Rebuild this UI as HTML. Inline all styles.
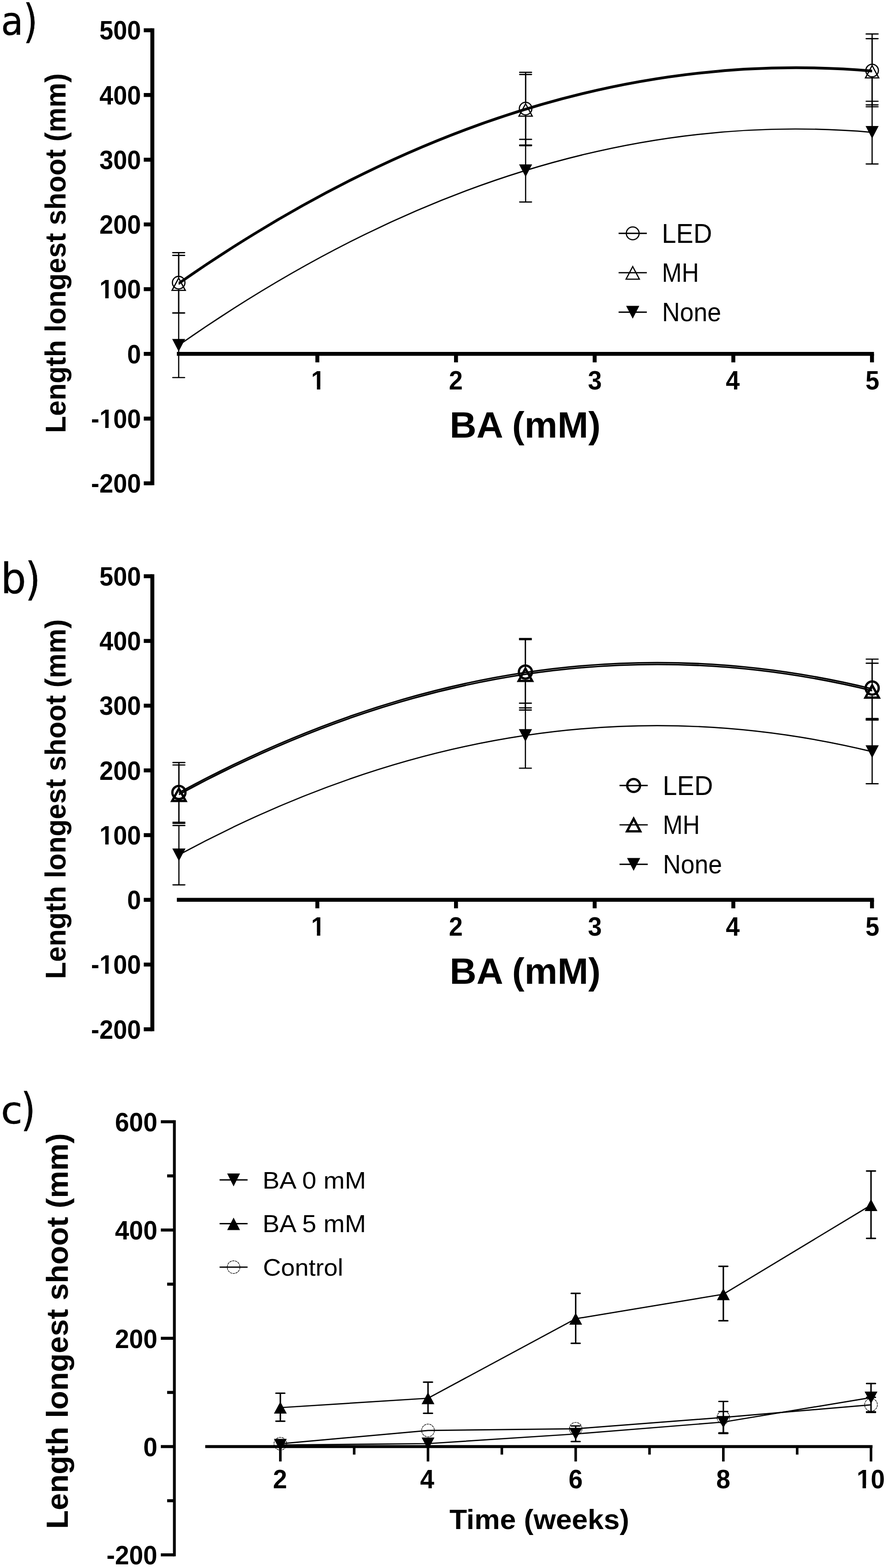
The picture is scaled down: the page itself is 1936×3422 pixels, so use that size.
<!DOCTYPE html>
<html><head><meta charset="utf-8"><title>Length longest shoot</title>
<style>html,body{margin:0;padding:0;background:#fff;}svg{display:block;}</style>
</head><body>
<svg width="1936" height="3422" viewBox="0 0 1936 3422">
<rect width="1936" height="3422" fill="#fff"/>
<text transform="translate(2.23,76.31) scale(0.9382,1)" font-family="DejaVu Sans, sans-serif" font-size="84.67" stroke="#000" stroke-width="0.6">a</text>
<text transform="translate(50.84,81.26) scale(0.8117,1)" font-family="DejaVu Sans, sans-serif" font-size="99.55" stroke="#000" stroke-width="0.6">)</text>
<line x1="332.50" y1="61.75" x2="332.50" y2="1059.10" stroke="#000" stroke-width="8.6" stroke-linecap="butt"/>
<line x1="313.80" y1="1054.80" x2="332.50" y2="1054.80" stroke="#000" stroke-width="8.6" stroke-linecap="butt"/>
<text transform="translate(198.77,1075.00) scale(0.9518,1)" font-family="Liberation Sans, Arial, sans-serif" font-weight="bold" font-size="57.20">-200</text>
<line x1="313.80" y1="913.55" x2="332.50" y2="913.55" stroke="#000" stroke-width="8.6" stroke-linecap="butt"/>
<clipPath id="fc1"><rect x="-57.20" y="-114.41" width="228.90" height="107.66"/><rect x="-57.20" y="-6.75" width="76.05" height="57.20"/><rect x="32.41" y="-6.75" width="7.78" height="57.20"/><rect x="51.05" y="-6.75" width="120.64" height="57.20"/></clipPath>
<text transform="translate(198.77,933.75) scale(0.9518,1)" font-family="Liberation Sans, Arial, sans-serif" font-weight="bold" font-size="57.20" clip-path="url(#fc1)">-100</text>
<line x1="313.80" y1="772.30" x2="332.50" y2="772.30" stroke="#000" stroke-width="8.6" stroke-linecap="butt"/>
<text transform="translate(277.50,792.50) scale(0.9518,1)" font-family="Liberation Sans, Arial, sans-serif" font-weight="bold" font-size="57.20">0</text>
<line x1="313.80" y1="631.05" x2="332.50" y2="631.05" stroke="#000" stroke-width="8.6" stroke-linecap="butt"/>
<clipPath id="fc2"><rect x="-57.20" y="-114.41" width="209.85" height="107.66"/><rect x="-57.20" y="-6.75" width="57.00" height="57.20"/><rect x="13.36" y="-6.75" width="7.78" height="57.20"/><rect x="32.01" y="-6.75" width="120.64" height="57.20"/></clipPath>
<text transform="translate(216.96,651.25) scale(0.9518,1)" font-family="Liberation Sans, Arial, sans-serif" font-weight="bold" font-size="57.20" clip-path="url(#fc2)">100</text>
<line x1="313.80" y1="489.80" x2="332.50" y2="489.80" stroke="#000" stroke-width="8.6" stroke-linecap="butt"/>
<text transform="translate(216.96,510.00) scale(0.9518,1)" font-family="Liberation Sans, Arial, sans-serif" font-weight="bold" font-size="57.20">200</text>
<line x1="313.80" y1="348.55" x2="332.50" y2="348.55" stroke="#000" stroke-width="8.6" stroke-linecap="butt"/>
<text transform="translate(216.96,368.75) scale(0.9518,1)" font-family="Liberation Sans, Arial, sans-serif" font-weight="bold" font-size="57.20">300</text>
<line x1="313.80" y1="207.30" x2="332.50" y2="207.30" stroke="#000" stroke-width="8.6" stroke-linecap="butt"/>
<text transform="translate(216.96,227.50) scale(0.9518,1)" font-family="Liberation Sans, Arial, sans-serif" font-weight="bold" font-size="57.20">400</text>
<line x1="313.80" y1="66.05" x2="332.50" y2="66.05" stroke="#000" stroke-width="8.6" stroke-linecap="butt"/>
<text transform="translate(216.96,86.25) scale(0.9518,1)" font-family="Liberation Sans, Arial, sans-serif" font-weight="bold" font-size="57.20">500</text>
<line x1="386.00" y1="772.30" x2="1907.55" y2="772.30" stroke="#000" stroke-width="8.6" stroke-linecap="butt"/>
<line x1="692.65" y1="772.30" x2="692.65" y2="790.80" stroke="#000" stroke-width="8.6" stroke-linecap="butt"/>
<clipPath id="fc3"><rect x="-57.20" y="-114.41" width="146.22" height="107.66"/><rect x="-57.20" y="-6.75" width="57.00" height="57.20"/><rect x="13.36" y="-6.75" width="7.78" height="57.20"/><rect x="32.01" y="-6.75" width="57.01" height="57.20"/></clipPath>
<text transform="translate(678.99,850.00) scale(0.9518,1)" font-family="Liberation Sans, Arial, sans-serif" font-weight="bold" font-size="57.20" clip-path="url(#fc3)">1</text>
<line x1="995.30" y1="772.30" x2="995.30" y2="790.80" stroke="#000" stroke-width="8.6" stroke-linecap="butt"/>
<text transform="translate(979.63,850.00) scale(0.9518,1)" font-family="Liberation Sans, Arial, sans-serif" font-weight="bold" font-size="57.20">2</text>
<line x1="1297.95" y1="772.30" x2="1297.95" y2="790.80" stroke="#000" stroke-width="8.6" stroke-linecap="butt"/>
<text transform="translate(1283.14,850.00) scale(0.9518,1)" font-family="Liberation Sans, Arial, sans-serif" font-weight="bold" font-size="57.20">3</text>
<line x1="1600.60" y1="772.30" x2="1600.60" y2="790.80" stroke="#000" stroke-width="8.6" stroke-linecap="butt"/>
<text transform="translate(1584.19,850.00) scale(0.9518,1)" font-family="Liberation Sans, Arial, sans-serif" font-weight="bold" font-size="57.20">4</text>
<line x1="1903.25" y1="772.30" x2="1903.25" y2="790.80" stroke="#000" stroke-width="8.6" stroke-linecap="butt"/>
<text transform="translate(1889.00,850.00) scale(0.9518,1)" font-family="Liberation Sans, Arial, sans-serif" font-weight="bold" font-size="57.20">5</text>
<text transform="translate(981.56,955.48) scale(1.0063,1)" font-family="Liberation Sans, Arial, sans-serif" font-weight="bold" font-size="80.36">BA (mM)</text>
<text transform="translate(142.86,944.92) rotate(-90) scale(0.9534,1)" font-family="Liberation Sans, Arial, sans-serif" font-weight="bold" font-size="63.89">Length longest shoot (mm)</text>
<path d="M390.00,753.50 Q1147.65,222.85 1903.50,288.80" fill="none" stroke="#000" stroke-width="2.7"/>
<path d="M390.00,620.20 Q1147.65,91.30 1903.50,156.40" fill="none" stroke="#000" stroke-width="3.2"/>
<path d="M390.00,617.00 Q1147.65,88.30 1903.50,153.60" fill="none" stroke="#000" stroke-width="3.2"/>
<line x1="390.00" y1="551.30" x2="390.00" y2="601.80" stroke="#000" stroke-width="2.6" stroke-linecap="butt"/>
<line x1="390.00" y1="631.80" x2="390.00" y2="683.00" stroke="#000" stroke-width="2.6" stroke-linecap="butt"/>
<line x1="377.10" y1="551.30" x2="402.90" y2="551.30" stroke="#000" stroke-width="2.7" stroke-linecap="round"/>
<line x1="377.10" y1="683.00" x2="402.90" y2="683.00" stroke="#000" stroke-width="2.7" stroke-linecap="round"/>
<line x1="1147.20" y1="157.90" x2="1147.20" y2="222.00" stroke="#000" stroke-width="2.6" stroke-linecap="butt"/>
<line x1="1147.20" y1="252.00" x2="1147.20" y2="316.50" stroke="#000" stroke-width="2.6" stroke-linecap="butt"/>
<line x1="1134.30" y1="157.90" x2="1160.10" y2="157.90" stroke="#000" stroke-width="2.7" stroke-linecap="round"/>
<line x1="1134.30" y1="316.50" x2="1160.10" y2="316.50" stroke="#000" stroke-width="2.7" stroke-linecap="round"/>
<line x1="1903.50" y1="74.20" x2="1903.50" y2="138.90" stroke="#000" stroke-width="2.6" stroke-linecap="butt"/>
<line x1="1903.50" y1="168.90" x2="1903.50" y2="233.00" stroke="#000" stroke-width="2.6" stroke-linecap="butt"/>
<line x1="1890.60" y1="74.20" x2="1916.40" y2="74.20" stroke="#000" stroke-width="2.7" stroke-linecap="round"/>
<line x1="1890.60" y1="233.00" x2="1916.40" y2="233.00" stroke="#000" stroke-width="2.7" stroke-linecap="round"/>
<line x1="390.00" y1="557.40" x2="390.00" y2="605.80" stroke="#000" stroke-width="2.6" stroke-linecap="butt"/>
<line x1="390.00" y1="635.10" x2="390.00" y2="683.00" stroke="#000" stroke-width="2.6" stroke-linecap="butt"/>
<line x1="377.10" y1="557.40" x2="402.90" y2="557.40" stroke="#000" stroke-width="2.7" stroke-linecap="round"/>
<line x1="377.10" y1="683.00" x2="402.90" y2="683.00" stroke="#000" stroke-width="2.7" stroke-linecap="round"/>
<line x1="1147.20" y1="162.60" x2="1147.20" y2="225.50" stroke="#000" stroke-width="2.6" stroke-linecap="butt"/>
<line x1="1147.20" y1="254.80" x2="1147.20" y2="317.80" stroke="#000" stroke-width="2.6" stroke-linecap="butt"/>
<line x1="1134.30" y1="162.60" x2="1160.10" y2="162.60" stroke="#000" stroke-width="2.7" stroke-linecap="round"/>
<line x1="1134.30" y1="317.80" x2="1160.10" y2="317.80" stroke="#000" stroke-width="2.7" stroke-linecap="round"/>
<line x1="1903.50" y1="84.30" x2="1903.50" y2="142.00" stroke="#000" stroke-width="2.6" stroke-linecap="butt"/>
<line x1="1903.50" y1="171.30" x2="1903.50" y2="228.80" stroke="#000" stroke-width="2.6" stroke-linecap="butt"/>
<line x1="1890.60" y1="84.30" x2="1916.40" y2="84.30" stroke="#000" stroke-width="2.7" stroke-linecap="round"/>
<line x1="1890.60" y1="228.80" x2="1916.40" y2="228.80" stroke="#000" stroke-width="2.7" stroke-linecap="round"/>
<line x1="390.00" y1="683.00" x2="390.00" y2="753.50" stroke="#000" stroke-width="2.6" stroke-linecap="butt"/>
<line x1="390.00" y1="753.50" x2="390.00" y2="824.00" stroke="#000" stroke-width="2.6" stroke-linecap="butt"/>
<line x1="377.10" y1="683.00" x2="402.90" y2="683.00" stroke="#000" stroke-width="2.7" stroke-linecap="round"/>
<line x1="377.10" y1="824.00" x2="402.90" y2="824.00" stroke="#000" stroke-width="2.7" stroke-linecap="round"/>
<line x1="1147.20" y1="304.20" x2="1147.20" y2="372.50" stroke="#000" stroke-width="2.6" stroke-linecap="butt"/>
<line x1="1147.20" y1="372.50" x2="1147.20" y2="440.80" stroke="#000" stroke-width="2.6" stroke-linecap="butt"/>
<line x1="1134.30" y1="304.20" x2="1160.10" y2="304.20" stroke="#000" stroke-width="2.7" stroke-linecap="round"/>
<line x1="1134.30" y1="440.80" x2="1160.10" y2="440.80" stroke="#000" stroke-width="2.7" stroke-linecap="round"/>
<line x1="1903.50" y1="221.00" x2="1903.50" y2="288.80" stroke="#000" stroke-width="2.6" stroke-linecap="butt"/>
<line x1="1903.50" y1="288.80" x2="1903.50" y2="357.80" stroke="#000" stroke-width="2.6" stroke-linecap="butt"/>
<line x1="1890.60" y1="221.00" x2="1916.40" y2="221.00" stroke="#000" stroke-width="2.7" stroke-linecap="round"/>
<line x1="1890.60" y1="357.80" x2="1916.40" y2="357.80" stroke="#000" stroke-width="2.7" stroke-linecap="round"/>
<circle cx="390.00" cy="616.80" r="13.7" fill="none" stroke="#000" stroke-width="2.6"/>
<circle cx="1147.20" cy="237.00" r="13.7" fill="none" stroke="#000" stroke-width="2.6"/>
<circle cx="1903.50" cy="153.90" r="13.7" fill="none" stroke="#000" stroke-width="2.6"/>
<polygon points="390.00,606.80 404.50,633.80 375.50,633.80" fill="none" stroke="#000" stroke-width="2.6" stroke-linejoin="miter"/>
<polygon points="1147.20,226.50 1161.70,253.50 1132.70,253.50" fill="none" stroke="#000" stroke-width="2.6" stroke-linejoin="miter"/>
<polygon points="1903.50,143.00 1918.00,170.00 1889.00,170.00" fill="none" stroke="#000" stroke-width="2.6" stroke-linejoin="miter"/>
<polygon points="375.75,739.75 404.25,739.75 390.00,767.25" fill="#000"/>
<polygon points="1132.95,358.75 1161.45,358.75 1147.20,386.25" fill="#000"/>
<polygon points="1889.25,275.05 1917.75,275.05 1903.50,302.55" fill="#000"/>
<line x1="1350.20" y1="509.30" x2="1411.80" y2="509.30" stroke="#000" stroke-width="2.9" stroke-linecap="butt"/>
<line x1="1350.20" y1="595.10" x2="1411.80" y2="595.10" stroke="#000" stroke-width="2.9" stroke-linecap="butt"/>
<line x1="1350.20" y1="681.20" x2="1411.80" y2="681.20" stroke="#000" stroke-width="2.9" stroke-linecap="butt"/>
<circle cx="1381.00" cy="509.30" r="14.0" fill="none" stroke="#000" stroke-width="2.6"/>
<polygon points="1381.00,581.75 1395.50,609.25 1366.50,609.25" fill="none" stroke="#000" stroke-width="2.6" stroke-linejoin="miter"/>
<polygon points="1366.60,667.40 1395.40,667.40 1381.00,695.60" fill="#000"/>
<text transform="translate(1444.48,529.80) scale(0.9650,1)" font-family="Liberation Sans, Arial, sans-serif" font-size="58.43">LED</text>
<text transform="translate(1444.75,615.30) scale(0.8966,1)" font-family="Liberation Sans, Arial, sans-serif" font-size="57.85">MH</text>
<text transform="translate(1445.07,700.63) scale(0.9419,1)" font-family="Liberation Sans, Arial, sans-serif" font-size="57.31">None</text>
<text transform="translate(1.78,1294.13) scale(0.9599,1)" font-family="DejaVu Sans, sans-serif" font-size="90.57" stroke="#000" stroke-width="0.6">b</text>
<text transform="translate(54.94,1298.35) scale(0.8738,1)" font-family="DejaVu Sans, sans-serif" font-size="98.09" stroke="#000" stroke-width="0.6">)</text>
<line x1="332.50" y1="1253.25" x2="332.50" y2="2250.60" stroke="#000" stroke-width="8.6" stroke-linecap="butt"/>
<line x1="313.80" y1="2246.30" x2="332.50" y2="2246.30" stroke="#000" stroke-width="8.6" stroke-linecap="butt"/>
<text transform="translate(198.77,2266.50) scale(0.9518,1)" font-family="Liberation Sans, Arial, sans-serif" font-weight="bold" font-size="57.20">-200</text>
<line x1="313.80" y1="2105.05" x2="332.50" y2="2105.05" stroke="#000" stroke-width="8.6" stroke-linecap="butt"/>
<clipPath id="fc4"><rect x="-57.20" y="-114.41" width="228.90" height="107.66"/><rect x="-57.20" y="-6.75" width="76.05" height="57.20"/><rect x="32.41" y="-6.75" width="7.78" height="57.20"/><rect x="51.05" y="-6.75" width="120.64" height="57.20"/></clipPath>
<text transform="translate(198.77,2125.25) scale(0.9518,1)" font-family="Liberation Sans, Arial, sans-serif" font-weight="bold" font-size="57.20" clip-path="url(#fc4)">-100</text>
<line x1="313.80" y1="1963.80" x2="332.50" y2="1963.80" stroke="#000" stroke-width="8.6" stroke-linecap="butt"/>
<text transform="translate(277.50,1984.00) scale(0.9518,1)" font-family="Liberation Sans, Arial, sans-serif" font-weight="bold" font-size="57.20">0</text>
<line x1="313.80" y1="1822.55" x2="332.50" y2="1822.55" stroke="#000" stroke-width="8.6" stroke-linecap="butt"/>
<clipPath id="fc5"><rect x="-57.20" y="-114.41" width="209.85" height="107.66"/><rect x="-57.20" y="-6.75" width="57.00" height="57.20"/><rect x="13.36" y="-6.75" width="7.78" height="57.20"/><rect x="32.01" y="-6.75" width="120.64" height="57.20"/></clipPath>
<text transform="translate(216.96,1842.75) scale(0.9518,1)" font-family="Liberation Sans, Arial, sans-serif" font-weight="bold" font-size="57.20" clip-path="url(#fc5)">100</text>
<line x1="313.80" y1="1681.30" x2="332.50" y2="1681.30" stroke="#000" stroke-width="8.6" stroke-linecap="butt"/>
<text transform="translate(216.96,1701.50) scale(0.9518,1)" font-family="Liberation Sans, Arial, sans-serif" font-weight="bold" font-size="57.20">200</text>
<line x1="313.80" y1="1540.05" x2="332.50" y2="1540.05" stroke="#000" stroke-width="8.6" stroke-linecap="butt"/>
<text transform="translate(216.96,1560.25) scale(0.9518,1)" font-family="Liberation Sans, Arial, sans-serif" font-weight="bold" font-size="57.20">300</text>
<line x1="313.80" y1="1398.80" x2="332.50" y2="1398.80" stroke="#000" stroke-width="8.6" stroke-linecap="butt"/>
<text transform="translate(216.96,1419.00) scale(0.9518,1)" font-family="Liberation Sans, Arial, sans-serif" font-weight="bold" font-size="57.20">400</text>
<line x1="313.80" y1="1257.55" x2="332.50" y2="1257.55" stroke="#000" stroke-width="8.6" stroke-linecap="butt"/>
<text transform="translate(216.96,1277.75) scale(0.9518,1)" font-family="Liberation Sans, Arial, sans-serif" font-weight="bold" font-size="57.20">500</text>
<line x1="386.00" y1="1963.80" x2="1907.55" y2="1963.80" stroke="#000" stroke-width="8.6" stroke-linecap="butt"/>
<line x1="692.65" y1="1963.80" x2="692.65" y2="1982.30" stroke="#000" stroke-width="8.6" stroke-linecap="butt"/>
<clipPath id="fc6"><rect x="-57.20" y="-114.41" width="146.22" height="107.66"/><rect x="-57.20" y="-6.75" width="57.00" height="57.20"/><rect x="13.36" y="-6.75" width="7.78" height="57.20"/><rect x="32.01" y="-6.75" width="57.01" height="57.20"/></clipPath>
<text transform="translate(678.99,2041.50) scale(0.9518,1)" font-family="Liberation Sans, Arial, sans-serif" font-weight="bold" font-size="57.20" clip-path="url(#fc6)">1</text>
<line x1="995.30" y1="1963.80" x2="995.30" y2="1982.30" stroke="#000" stroke-width="8.6" stroke-linecap="butt"/>
<text transform="translate(979.63,2041.50) scale(0.9518,1)" font-family="Liberation Sans, Arial, sans-serif" font-weight="bold" font-size="57.20">2</text>
<line x1="1297.95" y1="1963.80" x2="1297.95" y2="1982.30" stroke="#000" stroke-width="8.6" stroke-linecap="butt"/>
<text transform="translate(1283.14,2041.50) scale(0.9518,1)" font-family="Liberation Sans, Arial, sans-serif" font-weight="bold" font-size="57.20">3</text>
<line x1="1600.60" y1="1963.80" x2="1600.60" y2="1982.30" stroke="#000" stroke-width="8.6" stroke-linecap="butt"/>
<text transform="translate(1584.19,2041.50) scale(0.9518,1)" font-family="Liberation Sans, Arial, sans-serif" font-weight="bold" font-size="57.20">4</text>
<line x1="1903.25" y1="1963.80" x2="1903.25" y2="1982.30" stroke="#000" stroke-width="8.6" stroke-linecap="butt"/>
<text transform="translate(1889.00,2041.50) scale(0.9518,1)" font-family="Liberation Sans, Arial, sans-serif" font-weight="bold" font-size="57.20">5</text>
<text transform="translate(981.56,2146.98) scale(1.0063,1)" font-family="Liberation Sans, Arial, sans-serif" font-weight="bold" font-size="80.36">BA (mM)</text>
<text transform="translate(142.86,2136.42) rotate(-90) scale(0.9534,1)" font-family="Liberation Sans, Arial, sans-serif" font-weight="bold" font-size="63.89">Length longest shoot (mm)</text>
<path d="M390.50,1865.50 Q1146.55,1457.05 1903.60,1640.40" fill="none" stroke="#000" stroke-width="2.7"/>
<path d="M390.50,1734.00 Q1146.55,1322.55 1903.60,1507.30" fill="none" stroke="#000" stroke-width="3.3"/>
<path d="M390.50,1730.00 Q1146.55,1318.55 1903.60,1503.30" fill="none" stroke="#000" stroke-width="3.3"/>
<line x1="390.50" y1="1664.20" x2="390.50" y2="1712.70" stroke="#000" stroke-width="2.6" stroke-linecap="butt"/>
<line x1="390.50" y1="1746.30" x2="390.50" y2="1794.50" stroke="#000" stroke-width="2.6" stroke-linecap="butt"/>
<line x1="377.60" y1="1664.20" x2="403.40" y2="1664.20" stroke="#000" stroke-width="2.7" stroke-linecap="round"/>
<line x1="377.60" y1="1794.50" x2="403.40" y2="1794.50" stroke="#000" stroke-width="2.7" stroke-linecap="round"/>
<line x1="1146.80" y1="1393.60" x2="1146.80" y2="1449.90" stroke="#000" stroke-width="2.6" stroke-linecap="butt"/>
<line x1="1146.80" y1="1483.50" x2="1146.80" y2="1544.80" stroke="#000" stroke-width="2.6" stroke-linecap="butt"/>
<line x1="1133.90" y1="1393.60" x2="1159.70" y2="1393.60" stroke="#000" stroke-width="2.7" stroke-linecap="round"/>
<line x1="1133.90" y1="1544.80" x2="1159.70" y2="1544.80" stroke="#000" stroke-width="2.7" stroke-linecap="round"/>
<line x1="1903.60" y1="1438.50" x2="1903.60" y2="1484.80" stroke="#000" stroke-width="2.6" stroke-linecap="butt"/>
<line x1="1903.60" y1="1518.40" x2="1903.60" y2="1568.00" stroke="#000" stroke-width="2.6" stroke-linecap="butt"/>
<line x1="1890.70" y1="1438.50" x2="1916.50" y2="1438.50" stroke="#000" stroke-width="2.7" stroke-linecap="round"/>
<line x1="1890.70" y1="1568.00" x2="1916.50" y2="1568.00" stroke="#000" stroke-width="2.7" stroke-linecap="round"/>
<line x1="390.50" y1="1669.50" x2="390.50" y2="1720.00" stroke="#000" stroke-width="2.6" stroke-linecap="butt"/>
<line x1="390.50" y1="1750.50" x2="390.50" y2="1797.00" stroke="#000" stroke-width="2.6" stroke-linecap="butt"/>
<line x1="377.60" y1="1669.50" x2="403.40" y2="1669.50" stroke="#000" stroke-width="2.7" stroke-linecap="round"/>
<line x1="377.60" y1="1797.00" x2="403.40" y2="1797.00" stroke="#000" stroke-width="2.7" stroke-linecap="round"/>
<line x1="1146.80" y1="1396.00" x2="1146.80" y2="1458.00" stroke="#000" stroke-width="2.6" stroke-linecap="butt"/>
<line x1="1146.80" y1="1488.50" x2="1146.80" y2="1549.60" stroke="#000" stroke-width="2.6" stroke-linecap="butt"/>
<line x1="1133.90" y1="1396.00" x2="1159.70" y2="1396.00" stroke="#000" stroke-width="2.7" stroke-linecap="round"/>
<line x1="1133.90" y1="1549.60" x2="1159.70" y2="1549.60" stroke="#000" stroke-width="2.7" stroke-linecap="round"/>
<line x1="1903.60" y1="1447.40" x2="1903.60" y2="1494.50" stroke="#000" stroke-width="2.6" stroke-linecap="butt"/>
<line x1="1903.60" y1="1525.00" x2="1903.60" y2="1571.50" stroke="#000" stroke-width="2.6" stroke-linecap="butt"/>
<line x1="1890.70" y1="1447.40" x2="1916.50" y2="1447.40" stroke="#000" stroke-width="2.7" stroke-linecap="round"/>
<line x1="1890.70" y1="1571.50" x2="1916.50" y2="1571.50" stroke="#000" stroke-width="2.7" stroke-linecap="round"/>
<line x1="390.50" y1="1801.70" x2="390.50" y2="1865.50" stroke="#000" stroke-width="2.6" stroke-linecap="butt"/>
<line x1="390.50" y1="1865.50" x2="390.50" y2="1931.10" stroke="#000" stroke-width="2.6" stroke-linecap="butt"/>
<line x1="377.60" y1="1801.70" x2="403.40" y2="1801.70" stroke="#000" stroke-width="2.7" stroke-linecap="round"/>
<line x1="377.60" y1="1931.10" x2="403.40" y2="1931.10" stroke="#000" stroke-width="2.7" stroke-linecap="round"/>
<line x1="1146.80" y1="1534.70" x2="1146.80" y2="1605.00" stroke="#000" stroke-width="2.6" stroke-linecap="butt"/>
<line x1="1146.80" y1="1605.00" x2="1146.80" y2="1676.50" stroke="#000" stroke-width="2.6" stroke-linecap="butt"/>
<line x1="1133.90" y1="1534.70" x2="1159.70" y2="1534.70" stroke="#000" stroke-width="2.7" stroke-linecap="round"/>
<line x1="1133.90" y1="1676.50" x2="1159.70" y2="1676.50" stroke="#000" stroke-width="2.7" stroke-linecap="round"/>
<line x1="1903.60" y1="1570.00" x2="1903.60" y2="1640.40" stroke="#000" stroke-width="2.6" stroke-linecap="butt"/>
<line x1="1903.60" y1="1640.40" x2="1903.60" y2="1710.40" stroke="#000" stroke-width="2.6" stroke-linecap="butt"/>
<line x1="1890.70" y1="1570.00" x2="1916.50" y2="1570.00" stroke="#000" stroke-width="2.7" stroke-linecap="round"/>
<line x1="1890.70" y1="1710.40" x2="1916.50" y2="1710.40" stroke="#000" stroke-width="2.7" stroke-linecap="round"/>
<circle cx="390.50" cy="1729.50" r="14.3" fill="none" stroke="#000" stroke-width="5.0"/>
<circle cx="1146.80" cy="1466.70" r="14.3" fill="none" stroke="#000" stroke-width="5.0"/>
<circle cx="1903.60" cy="1501.60" r="14.3" fill="none" stroke="#000" stroke-width="5.0"/>
<polygon points="390.50,1721.00 405.25,1748.00 375.75,1748.00" fill="none" stroke="#000" stroke-width="5.0" stroke-linejoin="miter"/>
<polygon points="1146.80,1459.00 1161.55,1486.00 1132.05,1486.00" fill="none" stroke="#000" stroke-width="5.0" stroke-linejoin="miter"/>
<polygon points="1903.60,1495.50 1918.35,1522.50 1888.85,1522.50" fill="none" stroke="#000" stroke-width="5.0" stroke-linejoin="miter"/>
<polygon points="376.10,1851.65 404.90,1851.65 390.50,1879.35" fill="#000"/>
<polygon points="1132.40,1591.15 1161.20,1591.15 1146.80,1618.85" fill="#000"/>
<polygon points="1889.20,1626.55 1918.00,1626.55 1903.60,1654.25" fill="#000"/>
<line x1="1352.20" y1="1714.30" x2="1413.80" y2="1714.30" stroke="#000" stroke-width="2.9" stroke-linecap="butt"/>
<line x1="1352.20" y1="1800.10" x2="1413.80" y2="1800.10" stroke="#000" stroke-width="2.9" stroke-linecap="butt"/>
<line x1="1352.20" y1="1886.20" x2="1413.80" y2="1886.20" stroke="#000" stroke-width="2.9" stroke-linecap="butt"/>
<circle cx="1383.00" cy="1714.30" r="14.0" fill="none" stroke="#000" stroke-width="5.0"/>
<polygon points="1383.00,1786.75 1397.50,1814.25 1368.50,1814.25" fill="none" stroke="#000" stroke-width="5.0" stroke-linejoin="miter"/>
<polygon points="1368.60,1872.40 1397.40,1872.40 1383.00,1900.60" fill="#000"/>
<text transform="translate(1446.48,1734.80) scale(0.9650,1)" font-family="Liberation Sans, Arial, sans-serif" font-size="58.43">LED</text>
<text transform="translate(1446.75,1820.30) scale(0.8966,1)" font-family="Liberation Sans, Arial, sans-serif" font-size="57.85">MH</text>
<text transform="translate(1447.07,1905.63) scale(0.9419,1)" font-family="Liberation Sans, Arial, sans-serif" font-size="57.31">None</text>
<text transform="translate(2.09,2451.65) scale(1.0488,1)" font-family="DejaVu Sans, sans-serif" font-size="81.88" stroke="#000" stroke-width="0.6">c</text>
<text transform="translate(45.70,2456.46) scale(0.8350,1)" font-family="DejaVu Sans, sans-serif" font-size="97.30" stroke="#000" stroke-width="0.6">)</text>
<line x1="380.60" y1="2444.80" x2="380.60" y2="3396.60" stroke="#000" stroke-width="6.2" stroke-linecap="butt"/>
<line x1="351.00" y1="3393.30" x2="380.60" y2="3393.30" stroke="#000" stroke-width="6.6" stroke-linecap="butt"/>
<text transform="translate(232.48,3414.10) scale(0.9601,1)" font-family="Liberation Sans, Arial, sans-serif" font-weight="bold" font-size="57.77">-200</text>
<line x1="364.80" y1="3275.15" x2="380.60" y2="3275.15" stroke="#000" stroke-width="6.6" stroke-linecap="butt"/>
<line x1="351.00" y1="3157.00" x2="380.60" y2="3157.00" stroke="#000" stroke-width="6.6" stroke-linecap="butt"/>
<text transform="translate(312.68,3177.80) scale(0.9601,1)" font-family="Liberation Sans, Arial, sans-serif" font-weight="bold" font-size="57.77">0</text>
<line x1="364.80" y1="3038.85" x2="380.60" y2="3038.85" stroke="#000" stroke-width="6.6" stroke-linecap="butt"/>
<line x1="351.00" y1="2920.70" x2="380.60" y2="2920.70" stroke="#000" stroke-width="6.6" stroke-linecap="butt"/>
<text transform="translate(251.00,2941.50) scale(0.9601,1)" font-family="Liberation Sans, Arial, sans-serif" font-weight="bold" font-size="57.77">200</text>
<line x1="364.80" y1="2802.55" x2="380.60" y2="2802.55" stroke="#000" stroke-width="6.6" stroke-linecap="butt"/>
<line x1="351.00" y1="2684.40" x2="380.60" y2="2684.40" stroke="#000" stroke-width="6.6" stroke-linecap="butt"/>
<text transform="translate(251.00,2705.20) scale(0.9601,1)" font-family="Liberation Sans, Arial, sans-serif" font-weight="bold" font-size="57.77">400</text>
<line x1="364.80" y1="2566.25" x2="380.60" y2="2566.25" stroke="#000" stroke-width="6.6" stroke-linecap="butt"/>
<line x1="351.00" y1="2448.10" x2="380.60" y2="2448.10" stroke="#000" stroke-width="6.6" stroke-linecap="butt"/>
<text transform="translate(251.00,2468.90) scale(0.9601,1)" font-family="Liberation Sans, Arial, sans-serif" font-weight="bold" font-size="57.77">600</text>
<line x1="448.00" y1="3157.00" x2="1904.40" y2="3157.00" stroke="#000" stroke-width="6.6" stroke-linecap="butt"/>
<line x1="611.90" y1="3157.00" x2="611.90" y2="3189.50" stroke="#000" stroke-width="5.6" stroke-linecap="butt"/>
<text transform="translate(595.65,3247.60) scale(0.9601,1)" font-family="Liberation Sans, Arial, sans-serif" font-weight="bold" font-size="57.77">2</text>
<line x1="773.05" y1="3157.00" x2="773.05" y2="3174.50" stroke="#000" stroke-width="5.6" stroke-linecap="butt"/>
<line x1="934.20" y1="3157.00" x2="934.20" y2="3189.50" stroke="#000" stroke-width="5.6" stroke-linecap="butt"/>
<text transform="translate(917.00,3247.60) scale(0.9601,1)" font-family="Liberation Sans, Arial, sans-serif" font-weight="bold" font-size="57.77">4</text>
<line x1="1095.35" y1="3157.00" x2="1095.35" y2="3174.50" stroke="#000" stroke-width="5.6" stroke-linecap="butt"/>
<line x1="1256.50" y1="3157.00" x2="1256.50" y2="3189.50" stroke="#000" stroke-width="5.6" stroke-linecap="butt"/>
<text transform="translate(1241.08,3247.60) scale(0.9601,1)" font-family="Liberation Sans, Arial, sans-serif" font-weight="bold" font-size="57.77">6</text>
<line x1="1417.65" y1="3157.00" x2="1417.65" y2="3174.50" stroke="#000" stroke-width="5.6" stroke-linecap="butt"/>
<line x1="1578.80" y1="3157.00" x2="1578.80" y2="3189.50" stroke="#000" stroke-width="5.6" stroke-linecap="butt"/>
<text transform="translate(1563.33,3247.60) scale(0.9601,1)" font-family="Liberation Sans, Arial, sans-serif" font-weight="bold" font-size="57.77">8</text>
<line x1="1739.95" y1="3157.00" x2="1739.95" y2="3174.50" stroke="#000" stroke-width="5.6" stroke-linecap="butt"/>
<line x1="1901.10" y1="3157.00" x2="1901.10" y2="3189.50" stroke="#000" stroke-width="5.6" stroke-linecap="butt"/>
<clipPath id="fc7"><rect x="-57.77" y="-115.54" width="179.79" height="108.72"/><rect x="-57.77" y="-6.82" width="57.57" height="57.77"/><rect x="13.49" y="-6.82" width="7.86" height="57.77"/><rect x="32.32" y="-6.82" width="89.71" height="57.77"/></clipPath>
<text transform="translate(1869.65,3247.60) scale(0.9601,1)" font-family="Liberation Sans, Arial, sans-serif" font-weight="bold" font-size="57.77" clip-path="url(#fc7)">10</text>
<text transform="translate(980.95,3336.79) scale(1.0179,1)" font-family="Liberation Sans, Arial, sans-serif" font-weight="bold" font-size="61.59">Time (weeks)</text>
<text transform="translate(147.96,3336.82) rotate(-90) scale(1.0118,1)" font-family="Liberation Sans, Arial, sans-serif" font-weight="bold" font-size="66.24">Length longest shoot (mm)</text>
<polyline points="611.90,3153.50 934.20,3150.50 1256.50,3129.50 1578.80,3103.50 1901.10,3050.20" fill="none" stroke="#000" stroke-width="2.7" stroke-linejoin="miter"/>
<polyline points="611.90,3072.00 934.20,3051.50 1256.50,2878.00 1578.80,2824.50 1901.10,2630.00" fill="none" stroke="#000" stroke-width="2.7" stroke-linejoin="miter"/>
<polyline points="611.90,3150.80 934.20,3121.80 1256.50,3118.20 1578.80,3093.40 1901.10,3065.80" fill="none" stroke="#000" stroke-width="2.7" stroke-linejoin="miter"/>
<line x1="611.90" y1="3040.50" x2="611.90" y2="3101.60" stroke="#000" stroke-width="3.2" stroke-linecap="butt"/>
<line x1="602.25" y1="3040.50" x2="621.55" y2="3040.50" stroke="#000" stroke-width="3.2" stroke-linecap="round"/>
<line x1="602.25" y1="3101.60" x2="621.55" y2="3101.60" stroke="#000" stroke-width="3.2" stroke-linecap="round"/>
<line x1="934.20" y1="3016.30" x2="934.20" y2="3084.30" stroke="#000" stroke-width="3.2" stroke-linecap="butt"/>
<line x1="924.55" y1="3016.30" x2="943.85" y2="3016.30" stroke="#000" stroke-width="3.2" stroke-linecap="round"/>
<line x1="924.55" y1="3084.30" x2="943.85" y2="3084.30" stroke="#000" stroke-width="3.2" stroke-linecap="round"/>
<line x1="1256.50" y1="2822.70" x2="1256.50" y2="2931.70" stroke="#000" stroke-width="3.2" stroke-linecap="butt"/>
<line x1="1246.85" y1="2822.70" x2="1266.15" y2="2822.70" stroke="#000" stroke-width="3.2" stroke-linecap="round"/>
<line x1="1246.85" y1="2931.70" x2="1266.15" y2="2931.70" stroke="#000" stroke-width="3.2" stroke-linecap="round"/>
<line x1="1578.80" y1="2763.60" x2="1578.80" y2="2882.40" stroke="#000" stroke-width="3.2" stroke-linecap="butt"/>
<line x1="1569.15" y1="2763.60" x2="1588.45" y2="2763.60" stroke="#000" stroke-width="3.2" stroke-linecap="round"/>
<line x1="1569.15" y1="2882.40" x2="1588.45" y2="2882.40" stroke="#000" stroke-width="3.2" stroke-linecap="round"/>
<line x1="1901.10" y1="2555.60" x2="1901.10" y2="2702.60" stroke="#000" stroke-width="3.2" stroke-linecap="butt"/>
<line x1="1891.45" y1="2555.60" x2="1910.75" y2="2555.60" stroke="#000" stroke-width="3.2" stroke-linecap="round"/>
<line x1="1891.45" y1="2702.60" x2="1910.75" y2="2702.60" stroke="#000" stroke-width="3.2" stroke-linecap="round"/>
<line x1="1256.50" y1="3112.00" x2="1256.50" y2="3146.00" stroke="#000" stroke-width="3.2" stroke-linecap="butt"/>
<line x1="1246.85" y1="3112.00" x2="1266.15" y2="3112.00" stroke="#000" stroke-width="3.2" stroke-linecap="round"/>
<line x1="1246.85" y1="3146.00" x2="1266.15" y2="3146.00" stroke="#000" stroke-width="3.2" stroke-linecap="round"/>
<line x1="1578.80" y1="3080.50" x2="1578.80" y2="3127.00" stroke="#000" stroke-width="3.2" stroke-linecap="butt"/>
<line x1="1569.15" y1="3080.50" x2="1588.45" y2="3080.50" stroke="#000" stroke-width="3.2" stroke-linecap="round"/>
<line x1="1569.15" y1="3127.00" x2="1588.45" y2="3127.00" stroke="#000" stroke-width="3.2" stroke-linecap="round"/>
<line x1="1901.10" y1="3019.40" x2="1901.10" y2="3081.00" stroke="#000" stroke-width="3.2" stroke-linecap="butt"/>
<line x1="1891.45" y1="3019.40" x2="1910.75" y2="3019.40" stroke="#000" stroke-width="3.2" stroke-linecap="round"/>
<line x1="1891.45" y1="3081.00" x2="1910.75" y2="3081.00" stroke="#000" stroke-width="3.2" stroke-linecap="round"/>
<line x1="1578.80" y1="3058.50" x2="1578.80" y2="3078.90" stroke="#000" stroke-width="3.2" stroke-linecap="butt"/>
<line x1="1578.80" y1="3107.90" x2="1578.80" y2="3128.30" stroke="#000" stroke-width="3.2" stroke-linecap="butt"/>
<line x1="1569.15" y1="3058.50" x2="1588.45" y2="3058.50" stroke="#000" stroke-width="3.2" stroke-linecap="round"/>
<line x1="1569.15" y1="3128.30" x2="1588.45" y2="3128.30" stroke="#000" stroke-width="3.2" stroke-linecap="round"/>
<line x1="1901.10" y1="3049.50" x2="1901.10" y2="3051.30" stroke="#000" stroke-width="3.2" stroke-linecap="butt"/>
<line x1="1901.10" y1="3080.30" x2="1901.10" y2="3082.40" stroke="#000" stroke-width="3.2" stroke-linecap="butt"/>
<line x1="1891.45" y1="3049.50" x2="1910.75" y2="3049.50" stroke="#000" stroke-width="3.2" stroke-linecap="round"/>
<line x1="1891.45" y1="3082.40" x2="1910.75" y2="3082.40" stroke="#000" stroke-width="3.2" stroke-linecap="round"/>
<polygon points="611.90,3059.00 625.90,3085.00 597.90,3085.00" fill="#000"/>
<polygon points="597.90,3140.25 625.90,3140.25 611.90,3166.75" fill="#000"/>
<circle cx="611.90" cy="3150.80" r="13.9" fill="none" stroke="#000" stroke-width="1.3" stroke-dasharray="5 1.2"/>
<polygon points="934.20,3038.50 948.20,3064.50 920.20,3064.50" fill="#000"/>
<polygon points="920.20,3137.25 948.20,3137.25 934.20,3163.75" fill="#000"/>
<circle cx="934.20" cy="3121.80" r="13.9" fill="none" stroke="#000" stroke-width="1.3" stroke-dasharray="5 1.2"/>
<polygon points="1256.50,2865.00 1270.50,2891.00 1242.50,2891.00" fill="#000"/>
<polygon points="1242.50,3116.25 1270.50,3116.25 1256.50,3142.75" fill="#000"/>
<circle cx="1256.50" cy="3118.20" r="13.9" fill="none" stroke="#000" stroke-width="1.3" stroke-dasharray="5 1.2"/>
<polygon points="1578.80,2811.50 1592.80,2837.50 1564.80,2837.50" fill="#000"/>
<polygon points="1564.80,3090.25 1592.80,3090.25 1578.80,3116.75" fill="#000"/>
<circle cx="1578.80" cy="3093.40" r="13.9" fill="none" stroke="#000" stroke-width="1.3" stroke-dasharray="5 1.2"/>
<polygon points="1901.10,2617.00 1915.10,2643.00 1887.10,2643.00" fill="#000"/>
<polygon points="1887.10,3036.95 1915.10,3036.95 1901.10,3063.45" fill="#000"/>
<circle cx="1901.10" cy="3065.80" r="13.9" fill="none" stroke="#000" stroke-width="1.3" stroke-dasharray="5 1.2"/>
<line x1="479.30" y1="2575.00" x2="540.40" y2="2575.00" stroke="#000" stroke-width="2.9" stroke-linecap="butt"/>
<line x1="479.30" y1="2670.50" x2="540.40" y2="2670.50" stroke="#000" stroke-width="2.9" stroke-linecap="butt"/>
<line x1="479.30" y1="2765.40" x2="540.40" y2="2765.40" stroke="#000" stroke-width="2.9" stroke-linecap="butt"/>
<polygon points="495.85,2560.90 523.85,2560.90 509.85,2589.30" fill="#000"/>
<polygon points="509.85,2657.30 523.85,2684.50 495.85,2684.50" fill="#000"/>
<circle cx="509.85" cy="2765.40" r="13.9" fill="none" stroke="#000" stroke-width="1.3" stroke-dasharray="5 1.2"/>
<text transform="translate(572.93,2594.28) scale(1.0630,1)" font-family="Liberation Sans, Arial, sans-serif" font-size="52.40">BA 0 mM</text>
<text transform="translate(572.93,2688.96) scale(1.0341,1)" font-family="Liberation Sans, Arial, sans-serif" font-size="53.87">BA 5 mM</text>
<text transform="translate(573.98,2784.18) scale(1.0415,1)" font-family="Liberation Sans, Arial, sans-serif" font-size="52.18">Control</text>
</svg>
</body></html>
